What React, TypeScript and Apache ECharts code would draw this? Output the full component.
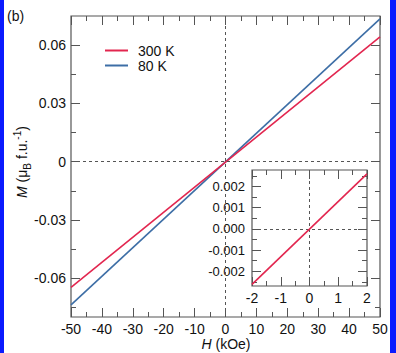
import React, { useEffect, useRef } from "react";
import * as echarts from "echarts";

// ---- data ----
const H_RANGE = [-50, 50];
const M_300K = [-0.0647, 0.0643];
const M_80K = [-0.0738, 0.0735];
const INSET_H = [-2, 2];
const INSET_M_300K = [-0.00262, 0.0026];

const MAIN_Y_TICKS = [-0.06, -0.03, 0, 0.03, 0.06];
const MAIN_Y_MINOR = [-0.075, -0.045, -0.015, 0.015, 0.045];
const INSET_Y_TICKS = [-0.002, -0.001, 0, 0.001, 0.002];
const INSET_Y_MINOR = [-0.0025, -0.0015, -0.0005, 0.0005, 0.0015, 0.0025];

const LEGEND_NAMES = ["300 K", "80 K"];
const RED = "#e2264f";
const BLUE = "#3d6ea6";
const FONT = "Liberation Sans, Arial, Helvetica, sans-serif";
const AXIS_COLOR = "#555";
const TEXT_COLOR = "#111";

const MAIN_Y_MIN = -0.08;
const MAIN_Y_MAX = 0.075;
const INSET_Y_MIN = -0.0027;
const INSET_Y_MAX = 0.00278;

function pairs(xs: number[], ys: number[]) {
  return xs.map((x, i) => [x, ys[i]]);
}

function xAx(gridIndex: number, position: string, min: number, max: number, interval: number, showLabel: boolean) {
  return {
    type: "value",
    gridIndex,
    position,
    min,
    max,
    interval,
    axisLine: { show: false, onZero: false },
    splitLine: { show: false },
    axisTick: { show: true, inside: true, length: 9, lineStyle: { color: AXIS_COLOR, width: 1 } },
    minorTick: { show: true, splitNumber: 2, length: 5, lineStyle: { color: AXIS_COLOR, width: 1 } },
    axisLabel: {
      show: showLabel,
      fontSize: 14,
      lineHeight: 14,
      fontFamily: FONT,
      color: TEXT_COLOR,
      margin: 5,
    },
  };
}

function yAx(
  gridIndex: number,
  position: string,
  min: number,
  max: number,
  values: number[],
  len: number,
  showLabel: boolean,
  fmt: (v: number) => string,
  fontSize: number,
  margin: number
) {
  return {
    type: "value",
    gridIndex,
    position,
    min,
    max,
    axisLine: { show: false, onZero: false },
    splitLine: { show: false },
    axisTick: {
      show: true,
      inside: true,
      length: len,
      customValues: values,
      lineStyle: { color: AXIS_COLOR, width: 1 },
    },
    axisLabel: {
      show: showLabel,
      customValues: values,
      formatter: fmt,
      fontSize,
      fontFamily: FONT,
      color: TEXT_COLOR,
      margin,
    },
  };
}

const fmtMain = (v: number) => (Math.abs(v) < 1e-9 ? "0" : v.toFixed(2));
const fmtInset = (v: number) => (Math.abs(v) < 1e-9 ? "0.000" : v.toFixed(3));

export default function App() {
  const ref = useRef<HTMLDivElement>(null);
  useEffect(() => {
    if (!ref.current) return;
    const chart = echarts.init(ref.current, undefined, { renderer: "svg" });
    const dashed = { type: [3, 3], color: AXIS_COLOR, width: 1 };
    chart.setOption({
      animation: false,
      backgroundColor: "#fff",
      textStyle: { fontFamily: FONT },
      grid: [
        { left: 71, top: 16, width: 309, height: 301, show: true, borderColor: AXIS_COLOR, borderWidth: 1.2, backgroundColor: "transparent" },
        { left: 252, top: 170, width: 115, height: 116, show: true, borderColor: AXIS_COLOR, borderWidth: 1.2, backgroundColor: "#fff" },
      ],
      legend: {
        data: LEGEND_NAMES,
        orient: "vertical",
        left: 100,
        top: 38,
        icon: "rect",
        itemWidth: 23,
        itemHeight: 2,
        itemGap: 0,
        textStyle: { fontSize: 14, lineHeight: 15, color: TEXT_COLOR, fontFamily: FONT, padding: [0, 0, 0, 5] },
      },
      xAxis: [
        xAx(0, "bottom", H_RANGE[0], H_RANGE[1], 10, true),
        xAx(0, "top", H_RANGE[0], H_RANGE[1], 10, false),
        xAx(1, "bottom", INSET_H[0], INSET_H[1], 1, true),
        xAx(1, "top", INSET_H[0], INSET_H[1], 1, false),
      ],
      yAxis: [
        yAx(0, "left", MAIN_Y_MIN, MAIN_Y_MAX, MAIN_Y_TICKS, 9, true, fmtMain, 14, 5),
        yAx(0, "left", MAIN_Y_MIN, MAIN_Y_MAX, MAIN_Y_MINOR, 5, false, fmtMain, 14, 5),
        yAx(0, "right", MAIN_Y_MIN, MAIN_Y_MAX, MAIN_Y_TICKS, 9, false, fmtMain, 14, 5),
        yAx(0, "right", MAIN_Y_MIN, MAIN_Y_MAX, MAIN_Y_MINOR, 5, false, fmtMain, 14, 5),
        yAx(1, "left", INSET_Y_MIN, INSET_Y_MAX, INSET_Y_TICKS, 9, true, fmtInset, 13, 7),
        yAx(1, "left", INSET_Y_MIN, INSET_Y_MAX, INSET_Y_MINOR, 5, false, fmtInset, 13, 7),
        yAx(1, "right", INSET_Y_MIN, INSET_Y_MAX, INSET_Y_TICKS, 9, false, fmtInset, 13, 7),
        yAx(1, "right", INSET_Y_MIN, INSET_Y_MAX, INSET_Y_MINOR, 5, false, fmtInset, 13, 7),
      ],
      series: [
        {
          name: "80 K",
          type: "line",
          xAxisIndex: 0,
          yAxisIndex: 0,
          data: pairs(H_RANGE, M_80K),
          showSymbol: false,
          symbol: "none",
          color: BLUE,
          lineStyle: { color: BLUE, width: 1.6 },
          markLine: {
            silent: true,
            symbol: ["none", "none"],
            label: { show: false },
            lineStyle: dashed,
            data: [{ xAxis: 0 }, { yAxis: 0 }],
          },
        },
        {
          name: "300 K",
          type: "line",
          xAxisIndex: 0,
          yAxisIndex: 0,
          data: pairs(H_RANGE, M_300K),
          showSymbol: false,
          symbol: "none",
          color: RED,
          lineStyle: { color: RED, width: 1.6 },
        },
        {
          name: "300 K (inset)",
          type: "line",
          xAxisIndex: 2,
          yAxisIndex: 4,
          data: pairs(INSET_H, INSET_M_300K),
          showSymbol: false,
          symbol: "none",
          color: RED,
          lineStyle: { color: RED, width: 1.6 },
          z: 5,
          markLine: {
            silent: true,
            symbol: ["none", "none"],
            label: { show: false },
            lineStyle: dashed,
            data: [{ xAxis: 0 }, { yAxis: 0 }],
          },
        },
      ],
      graphic: [
        { type: "rect", shape: { x: 0, y: 0, width: 4, height: 353 }, style: { fill: "#0a1aff" }, z: 100 },
        { type: "rect", shape: { x: 390, y: 0, width: 6, height: 353 }, style: { fill: "#0a1aff" }, z: 100 },
        {
          type: "text",
          x: 7,
          y: 16,
          style: { text: "(b)", fontSize: 14, fontFamily: FONT, fill: TEXT_COLOR, verticalAlign: "middle", align: "left" },
        },
        {
          type: "text",
          x: 226,
          y: 344,
          style: {
            text: "{i|H} (kOe)",
            fontSize: 14,
            lineHeight: 14,
            fontFamily: FONT,
            fill: TEXT_COLOR,
            align: "center",
            verticalAlign: "middle",
            rich: { i: { fontStyle: "italic", fontSize: 14, lineHeight: 14, fontFamily: FONT, fill: TEXT_COLOR } },
          },
        },
        {
          type: "text",
          x: 22,
          y: 162,
          rotation: Math.PI / 2,
          style: {
            text: "{i|M} (μ{sub|B} f.u.{sup|-1})",
            fontSize: 14,
            fontFamily: FONT,
            fill: TEXT_COLOR,
            align: "center",
            verticalAlign: "middle",
            lineHeight: 20,
            rich: {
              i: { fontStyle: "italic", fontSize: 14, fontFamily: FONT, fill: TEXT_COLOR, lineHeight: 20 },
              sub: { fontSize: 10, fontFamily: FONT, fill: TEXT_COLOR, lineHeight: 10, verticalAlign: "bottom" },
              sup: { fontSize: 10, fontFamily: FONT, fill: TEXT_COLOR, lineHeight: 10, verticalAlign: "top" },
            },
          },
        },
      ],
    });
    return () => chart.dispose();
  }, []);
  return (
    <div
      ref={ref}
      style={{ position: "absolute", left: 0, top: 0, width: 396, height: 353 }}
    />
  );
}
